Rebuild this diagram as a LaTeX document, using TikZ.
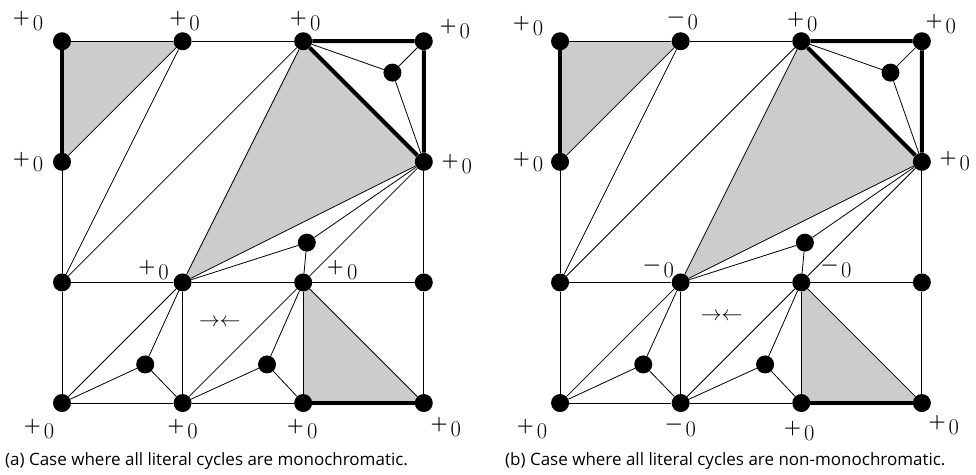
\documentclass[tikz,border=0pt]{standalone}
\usepackage{fontspec}
\setsansfont{Open Sans}
\usetikzlibrary{calc}
\definecolor{CellGray}{HTML}{CCCCCC}
\newcommand{\possign}{{\fontsize{19.5}{24}\selectfont\bfseries +}\kern3pt\raisebox{-7pt}{0}}
\newcommand{\negsign}{{\fontsize{19.5}{24}\selectfont\bfseries −}\kern3pt\raisebox{-7pt}{0}}
\tikzset{
  vtx/.style={circle,fill=black,inner sep=0pt,minimum size=18pt},
  edge/.style={line width=0.8pt},
  cyc/.style={line width=4pt},
  sign/.style={font=\fontsize{22.5}{26}\selectfont,inner sep=0pt},
  capt/.style={font=\sffamily\fontsize{17}{20}\selectfont,inner sep=0pt,anchor=base west},
}

\begin{document}
\begin{tikzpicture}[x=120.6pt,y=120.6pt]
  \useasboundingbox (-0.514,-0.589) rectangle (7.579,3.342);
  \foreach \p/\sx in {a/0,b/4.13} {
    \begin{scope}[shift={(\sx,0)}]
      % shaded faces
      \fill[CellGray] (0,3) -- (1,3) -- (0,2) -- cycle;
      \fill[CellGray] (2,3) -- (3,2) -- (1,1) -- cycle;
      \fill[CellGray] (2,1) -- (2,0) -- (3,0) -- cycle;
      % grid vertices
      \node[vtx] (\p00) at (0,0) {};
      \node[vtx] (\p10) at (1,0) {};
      \node[vtx] (\p20) at (2,0) {};
      \node[vtx] (\p30) at (3,0) {};
      \node[vtx] (\p01) at (0,1) {};
      \node[vtx] (\p11) at (1,1) {};
      \node[vtx] (\p21) at (2,1) {};
      \node[vtx] (\p31) at (3,1) {};
      \node[vtx] (\p02) at (0,2) {};
      \node[vtx] (\p32) at (3,2) {};
      \node[vtx] (\p03) at (0,3) {};
      \node[vtx] (\p13) at (1,3) {};
      \node[vtx] (\p23) at (2,3) {};
      \node[vtx] (\p33) at (3,3) {};
      % inner vertices
      \node[vtx] (\p-tr) at (2.74,2.74) {};
      \node[vtx] (\p-md) at (2.03,1.33) {};
      \node[vtx] (\p-bl) at (0.69,0.32) {};
      \node[vtx] (\p-bm) at (1.70,0.32) {};
      % thin edges
      \draw[edge] (\p03) -- (\p13) -- (\p23);
      \draw[edge] (\p02) -- (\p01) -- (\p00) -- (\p10) -- (\p20);
      \draw[edge] (\p30) -- (\p31) -- (\p32);
      \draw[edge] (\p01) -- (\p11) -- (\p21) -- (\p31);
      \draw[edge] (\p11) -- (\p10);
      \draw[edge] (\p21) -- (\p20);
      \draw[edge] (\p02) -- (\p13) -- (\p01) -- (\p23) -- (\p11) -- (\p32);
      \draw[edge] (\p32) -- (\p-md) -- (\p11);
      \draw[edge] (\p32) -- (\p21) -- (\p-md);
      \draw[edge] (\p23) -- (\p-tr) -- (\p33);
      \draw[edge] (\p-tr) -- (\p32);
      \draw[edge] (\p11) -- (\p00) -- (\p-bl) -- (\p11);
      \draw[edge] (\p-bl) -- (\p10);
      \draw[edge] (\p21) -- (\p10) -- (\p-bm) -- (\p21);
      \draw[edge] (\p-bm) -- (\p20);
      \draw[edge] (\p21) -- (\p30);
      % literal cycles
      \draw[cyc] (\p03) -- (\p02);
      \draw[cyc] (\p23) -- (\p33) -- (\p32) -- (\p23);
      \draw[cyc] (\p20) -- (\p30);
    \end{scope}
  }
  % signs, panel (a)
  \node[sign] (a03s) at ($(a03)+(-34pt,20pt)$) {\possign};
  \node[sign] (a13s) at ($(a13)+(2pt,20pt)$) {\possign};
  \node[sign] (a23s) at ($(a23)+(2pt,20pt)$) {\possign};
  \node[sign] (a33s) at ($(a33)+(31pt,12pt)$) {\possign};
  \node[sign] (a02s) at ($(a02)+(-34pt,0pt)$) {\possign};
  \node[sign] (a32s) at ($(a32)+(33pt,-2pt)$) {\possign};
  \node[sign] (a11s) at ($(a11)+(-29pt,12pt)$) {\possign};
  \node[sign] (a21s) at ($(a21)+(39pt,12pt)$) {\possign};
  \node[sign] (a00s) at ($(a00)+(-23pt,-26pt)$) {\possign};
  \node[sign] (a10s) at ($(a10)+(0pt,-26pt)$) {\possign};
  \node[sign] (a20s) at ($(a20)+(-1pt,-26pt)$) {\possign};
  \node[sign] (a30s) at ($(a30)+(22pt,-24pt)$) {\possign};
  \node[sign] (a-arr) at (1.31,0.67) {$\rightarrow\leftarrow$};
  % signs, panel (b)
  \node[sign] (b03s) at ($(b03)+(-32pt,15pt)$) {\possign};
  \node[sign] (b13s) at ($(b13)+(2pt,19pt)$) {\negsign};
  \node[sign] (b23s) at ($(b23)+(1pt,19pt)$) {\possign};
  \node[sign] (b33s) at ($(b33)+(19pt,17pt)$) {\possign};
  \node[sign] (b02s) at ($(b02)+(-32pt,0pt)$) {\possign};
  \node[sign] (b32s) at ($(b32)+(33pt,1pt)$) {\possign};
  \node[sign] (b11s) at ($(b11)+(-22pt,12pt)$) {\negsign};
  \node[sign] (b21s) at ($(b21)+(35pt,12pt)$) {\negsign};
  \node[sign] (b00s) at ($(b00)+(-28pt,-26pt)$) {\possign};
  \node[sign] (b10s) at ($(b10)+(0pt,-26pt)$) {\negsign};
  \node[sign] (b20s) at ($(b20)+(-2pt,-28pt)$) {\possign};
  \node[sign] (b30s) at ($(b30)+(22pt,-22pt)$) {\possign};
  \node[sign] (b-arr) at ($(b-bm)+(-0.36,0.40)$) {$\rightarrow\leftarrow$};
  % captions
  \node[capt] (a-cap) at (-0.473,-0.514) {(a) Case where all literal cycles are monochromatic.};
  \node[capt] (b-cap) at (3.673,-0.514) {(b) Case where all literal cycles are non-monochromatic.};
\end{tikzpicture}
\end{document}
